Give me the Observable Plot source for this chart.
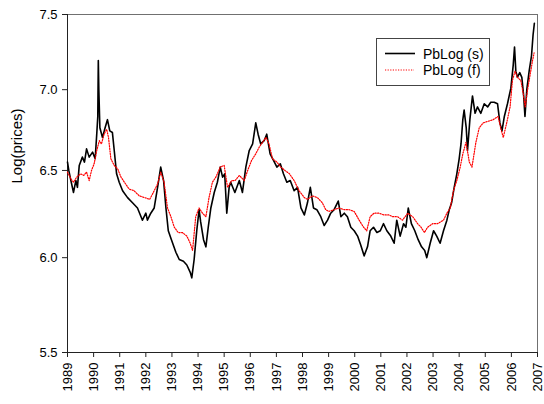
<!DOCTYPE html>
<html><head><meta charset="utf-8">
<script src="https://cdn.jsdelivr.net/npm/d3@7"></script>
<script src="https://cdn.jsdelivr.net/npm/@observablehq/plot@0.6"></script>
<style>
body{margin:0;background:#fff;font-family:"Liberation Sans",Arial,sans-serif;}
#wrap{position:relative;width:544px;height:404px;}
#legend{position:absolute;left:376px;top:38px;}
</style></head><body><div id="wrap"></div>
<script>
// PbLog (s) — black solid
const sYear=[1989.00,1989.05,1989.13,1989.23,1989.32,1989.38,1989.45,1989.57,1989.65,1989.73,1989.83,1989.96,1990.06,1990.12,1990.16,1990.18,1990.20,1990.24,1990.34,1990.44,1990.53,1990.62,1990.72,1990.79,1990.88,1990.98,1991.11,1991.30,1991.49,1991.68,1991.87,1992.00,1992.06,1992.19,1992.32,1992.45,1992.57,1992.68,1992.77,1992.86,1992.98,1993.15,1993.28,1993.44,1993.57,1993.70,1993.76,1993.85,1993.95,1994.04,1994.10,1994.21,1994.30,1994.39,1994.49,1994.62,1994.74,1994.85,1994.94,1995.02,1995.10,1995.19,1995.25,1995.41,1995.58,1995.70,1995.83,1995.96,1996.09,1996.21,1996.30,1996.40,1996.53,1996.63,1996.76,1996.89,1997.02,1997.15,1997.27,1997.40,1997.53,1997.68,1997.81,1997.94,1998.07,1998.19,1998.30,1998.42,1998.55,1998.70,1998.83,1998.96,1999.08,1999.21,1999.37,1999.47,1999.60,1999.72,1999.85,1999.98,2000.11,2000.23,2000.36,2000.49,2000.59,2000.72,2000.85,2000.98,2001.10,2001.23,2001.38,2001.51,2001.61,2001.74,2001.87,2001.96,2002.05,2002.17,2002.30,2002.43,2002.56,2002.68,2002.76,2002.89,2003.02,2003.14,2003.27,2003.40,2003.53,2003.62,2003.71,2003.81,2003.91,2004.00,2004.07,2004.14,2004.19,2004.27,2004.32,2004.41,2004.51,2004.61,2004.70,2004.83,2004.96,2005.09,2005.21,2005.34,2005.47,2005.56,2005.64,2005.73,2005.85,2005.98,2006.07,2006.12,2006.17,2006.23,2006.32,2006.40,2006.47,2006.52,2006.59,2006.68,2006.77,2006.83,2006.88];
const sVal=[6.55,6.50,6.44,6.37,6.44,6.40,6.53,6.58,6.55,6.63,6.58,6.61,6.57,6.72,6.83,7.19,7.00,6.76,6.70,6.76,6.81,6.74,6.73,6.62,6.48,6.43,6.38,6.34,6.31,6.28,6.21,6.25,6.21,6.25,6.28,6.40,6.52,6.44,6.28,6.15,6.10,6.03,5.99,5.98,5.96,5.92,5.89,5.99,6.15,6.27,6.20,6.10,6.06,6.17,6.28,6.37,6.43,6.52,6.46,6.48,6.25,6.40,6.43,6.37,6.44,6.37,6.52,6.62,6.66,6.79,6.72,6.66,6.68,6.72,6.60,6.56,6.52,6.54,6.48,6.43,6.44,6.38,6.40,6.28,6.24,6.31,6.40,6.28,6.27,6.23,6.18,6.21,6.25,6.27,6.32,6.23,6.25,6.23,6.17,6.15,6.12,6.07,6.01,6.06,6.15,6.17,6.14,6.15,6.19,6.15,6.12,6.08,6.21,6.12,6.19,6.17,6.28,6.19,6.15,6.10,6.06,6.04,6.00,6.08,6.15,6.12,6.08,6.15,6.21,6.27,6.31,6.40,6.48,6.57,6.66,6.81,6.87,6.76,6.62,6.81,6.96,6.85,6.89,6.85,6.91,6.89,6.92,6.92,6.91,6.79,6.74,6.83,6.91,7.01,7.16,7.28,7.12,7.08,7.11,7.08,6.96,6.83,7.00,7.12,7.22,7.36,7.44];
// PbLog (f) — red dotted
const fYear=[1989.00,1989.13,1989.23,1989.35,1989.50,1989.62,1989.73,1989.83,1989.92,1990.02,1990.12,1990.22,1990.30,1990.40,1990.50,1990.57,1990.66,1990.79,1990.92,1991.05,1991.18,1991.36,1991.55,1991.75,1991.95,1992.15,1992.32,1992.45,1992.57,1992.70,1992.83,1992.96,1993.09,1993.24,1993.40,1993.57,1993.70,1993.79,1993.91,1994.04,1994.17,1994.30,1994.42,1994.55,1994.68,1994.85,1995.00,1995.13,1995.29,1995.42,1995.58,1995.77,1995.90,1996.05,1996.21,1996.34,1996.47,1996.60,1996.72,1996.85,1997.02,1997.17,1997.33,1997.50,1997.68,1997.87,1998.07,1998.19,1998.38,1998.57,1998.76,1998.89,1999.01,1999.21,1999.40,1999.60,1999.79,1999.98,2000.17,2000.34,2000.46,2000.59,2000.74,2000.93,2001.12,2001.31,2001.45,2001.64,2001.83,2002.03,2002.22,2002.41,2002.54,2002.67,2002.79,2002.98,2003.17,2003.40,2003.53,2003.66,2003.78,2003.91,2004.04,2004.14,2004.26,2004.39,2004.49,2004.64,2004.77,2004.92,2005.11,2005.30,2005.49,2005.62,2005.69,2005.82,2005.95,2006.04,2006.14,2006.23,2006.36,2006.46,2006.53,2006.62,2006.72,2006.81,2006.87];
const fVal=[6.49,6.45,6.43,6.46,6.48,6.47,6.49,6.44,6.50,6.54,6.62,6.68,6.66,6.72,6.75,6.70,6.57,6.53,6.51,6.46,6.43,6.39,6.38,6.35,6.34,6.33,6.38,6.42,6.49,6.43,6.28,6.23,6.17,6.14,6.14,6.12,6.08,6.04,6.23,6.28,6.25,6.23,6.34,6.43,6.46,6.52,6.53,6.40,6.44,6.44,6.47,6.44,6.50,6.56,6.60,6.64,6.67,6.70,6.66,6.57,6.55,6.52,6.50,6.48,6.44,6.38,6.34,6.33,6.35,6.34,6.31,6.27,6.26,6.27,6.28,6.27,6.27,6.26,6.21,6.17,6.15,6.23,6.25,6.25,6.24,6.24,6.23,6.23,6.21,6.25,6.23,6.19,6.17,6.14,6.17,6.19,6.19,6.21,6.25,6.28,6.38,6.44,6.52,6.60,6.67,6.55,6.52,6.67,6.76,6.79,6.80,6.81,6.83,6.74,6.70,6.79,6.89,7.06,7.12,7.08,7.06,6.97,6.89,7.00,7.10,7.19,7.24];
const xTicks=[1989,1990,1991,1992,1993,1994,1995,1996,1997,1998,1999,2000,2001,2002,2003,2004,2005,2006,2007];
const yTicks=[5.5,6.0,6.5,7.0,7.5];
const seriesNames=["PbLog (s)","PbLog (f)"];
const yLabel="Log(prices)";

const sData=sYear.map((x,i)=>({x,y:sVal[i]}));
const fData=fYear.map((x,i)=>({x,y:fVal[i]}));

const chart=Plot.plot({
  width:544,height:404,
  marginLeft:67,marginRight:7,marginTop:14,marginBottom:52,
  style:{fontFamily:"Liberation Sans, Arial, sans-serif",fontSize:"13px",color:"#000",background:"#fff"},
  x:{type:"linear",domain:[1989,2007]},
  y:{type:"log",domain:[5.5,7.5]},
  marks:[
    Plot.frame({stroke:"#707070"}),
    Plot.axisY({ticks:yTicks,tickFormat:d=>d.toFixed(1),tickSize:5,tickPadding:5,label:null,stroke:"#222"}),
    Plot.axisX({ticks:xTicks,tickFormat:d=>String(d),tickSize:5,tickPadding:5,tickRotate:-90,label:null,stroke:"#222"}),
    Plot.ruleX([1989],{stroke:"#222"}),
    Plot.ruleY([5.5],{stroke:"#222"}),
    Plot.line(sData,{x:"x",y:"y",stroke:"#000",strokeWidth:1.6}),
    Plot.line(fData,{x:"x",y:"y",stroke:"#ff0000",strokeWidth:1.2,strokeDasharray:"1.2,1.4"}),
    Plot.text([yLabel],{frameAnchor:"left",rotate:-90,dx:-50,fontSize:15,fill:"#000"})
  ]
});
const wrap=document.getElementById("wrap");
wrap.appendChild(chart);

const leg=document.createElement("div");
leg.id="legend";
leg.innerHTML=`<svg width="114" height="48" style="display:block">
<rect x="0.5" y="0.5" width="113" height="47" fill="#fff" stroke="#444"/>
<line x1="9" x2="39" y1="15.5" y2="15.5" stroke="#000" stroke-width="1.6"/>
<line x1="9" x2="38" y1="32" y2="32" stroke="#f00" stroke-width="1.2" stroke-dasharray="1.2,1.4"/>
<text x="47" y="20.5" font-size="14" font-family="Liberation Sans, Arial, sans-serif">${seriesNames[0]}</text>
<text x="47" y="37" font-size="14" font-family="Liberation Sans, Arial, sans-serif">${seriesNames[1]}</text>
</svg>`;
wrap.appendChild(leg);
</script></body></html>
